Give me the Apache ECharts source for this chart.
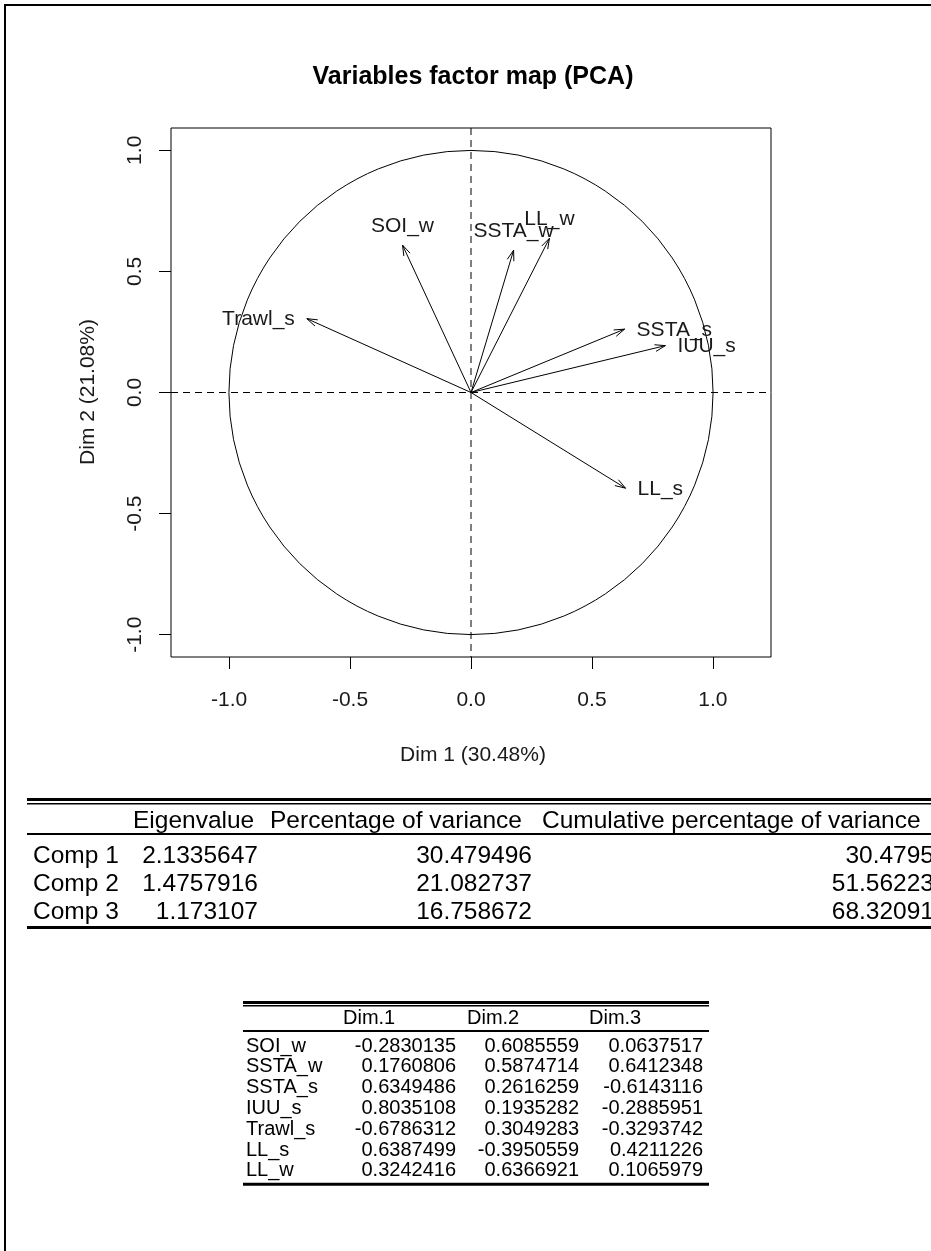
<!DOCTYPE html>
<html><head><meta charset="utf-8">
<script src="https://cdn.jsdelivr.net/npm/echarts@6/dist/echarts.min.js"></script>
<style>html,body{margin:0;padding:0;background:#fff}#main{width:931px;height:1251px}</style>
</head><body><div id="main"></div>
<script>
// ---------- data ----------
const variables = ['SOI_w', 'SSTA_w', 'SSTA_s', 'IUU_s', 'Trawl_s', 'LL_s', 'LL_w'];
const dim1 = [-0.2830135, 0.1760806, 0.6349486, 0.8035108, -0.6786312, 0.6387499, 0.3242416];
const dim2 = [0.6085559, 0.5874714, 0.2616259, 0.1935282, 0.3049283, -0.3950559, 0.6366921];
const dim3 = [0.0637517, 0.6412348, -0.6143116, -0.2885951, -0.3293742, 0.4211226, 0.1065979];
const components = ['Comp 1', 'Comp 2', 'Comp 3'];
const eigenvalues = ['2.1335647', '1.4757916', '1.173107'];
const pctVariance = ['30.479496', '21.082737', '16.758672'];
const cumPctVariance = ['30.4795', '51.56223', '68.32091'];
const eigenHeaders = ['Eigenvalue', 'Percentage of variance', 'Cumulative percentage of variance'];
const loadingHeaders = ['Dim.1', 'Dim.2', 'Dim.3'];
const tickValues = [-1.0, -0.5, 0.0, 0.5, 1.0];
const circle = [[0, 0, 1]];
const chartTitle = 'Variables factor map (PCA)';
const xTitle = 'Dim 1 (30.48%)';
const yTitle = 'Dim 2 (21.08%)';

// ---------- layout ----------
const FONT = "'Liberation Sans', Arial, Helvetica, sans-serif";
const PLOT_TXT = '#1a1a1a';
const PLOT_FS = 21;
const fmt = v => String(v);

const graphics = [];
graphics.push({type: 'polyline', shape: {points: [[5, 1251], [5, 5], [931, 5]]},
  style: {stroke: '#000', lineWidth: 2, fill: null}});
function txt(x, y, text, size, align, valign, extra) {
  return {type: 'text', x: x, y: y, style: Object.assign({
    text: text, fontSize: size, fontFamily: FONT, fill: '#000',
    align: align, textAlign: align, verticalAlign: valign, textVerticalAlign: valign
  }, extra || {})};
}
function rule(x1, x2, y, h) {
  return {type: 'rect', shape: {x: x1, y: y, width: x2 - x1, height: h}, style: {fill: '#000'}};
}
graphics.push(txt(473, 77, chartTitle, 25, 'center', 'middle', {fontWeight: 'bold'}));
graphics.push(txt(473, 755, xTitle, PLOT_FS, 'center', 'middle', {fill: PLOT_TXT}));
graphics.push(Object.assign(txt(0, 0, yTitle, PLOT_FS, 'center', 'middle', {fill: PLOT_TXT}),
  {x: 88, y: 392, rotation: Math.PI / 2}));

// ---- table 1: eigenvalues ----
const t1 = {x1: 27, x2: 931, top: 798, headerY: 821, underline: 833, rowY0: 856, rowH: 28, bottom: 926, font: 24.5,
  nameX: 33, eigRight: 258, pctRight: 532, cumRight: 934, headX: [133, 270, 542]};
graphics.push(rule(t1.x1, t1.x2, t1.top, 3));
graphics.push(rule(t1.x1, t1.x2, t1.top + 5, 1.5));
eigenHeaders.forEach((h, i) => graphics.push(txt(t1.headX[i], t1.headerY, h, t1.font, 'left', 'middle')));
graphics.push(rule(t1.x1, t1.x2, t1.underline, 2));
components.forEach((c, i) => {
  const y = t1.rowY0 + i * t1.rowH;
  graphics.push(txt(t1.nameX, y, c, t1.font, 'left', 'middle'));
  graphics.push(txt(t1.eigRight, y, eigenvalues[i], t1.font, 'right', 'middle'));
  graphics.push(txt(t1.pctRight, y, pctVariance[i], t1.font, 'right', 'middle'));
  graphics.push(txt(t1.cumRight, y, cumPctVariance[i], t1.font, 'right', 'middle'));
});
graphics.push(rule(t1.x1, t1.x2, t1.bottom, 3));

// ---- table 2: loadings ----
const t2 = {x1: 243, x2: 709, top: 1001, headerY: 1018, underline: 1030, rowY0: 1046, rowH: 20.8, font: 20,
  nameX: 246, headX: [343, 467, 589], valRight: [456, 579, 703]};
graphics.push(rule(t2.x1, t2.x2, t2.top, 3));
graphics.push(rule(t2.x1, t2.x2, t2.top + 4, 1.5));
loadingHeaders.forEach((h, i) => graphics.push(txt(t2.headX[i], t2.headerY, h, t2.font, 'left', 'middle')));
graphics.push(rule(t2.x1, t2.x2, t2.underline, 2));
variables.forEach((v, i) => {
  const y = t2.rowY0 + i * t2.rowH;
  graphics.push(txt(t2.nameX, y, v, t2.font, 'left', 'middle'));
  [dim1[i], dim2[i], dim3[i]].forEach((val, j) =>
    graphics.push(txt(t2.valRight[j], y, fmt(val), t2.font, 'right', 'middle')));
});
graphics.push(rule(t2.x1, t2.x2, t2.rowY0 + (variables.length - 1) * t2.rowH + 12, 3));

// ---------- chart ----------
const chart = echarts.init(document.getElementById('main'), null, {renderer: 'canvas'});
const axisCommon = {
  type: 'value', splitLine: {show: false}, axisLine: {show: false, onZero: false},
  axisTick: {show: true, inside: false, length: 12, customValues: tickValues, lineStyle: {color: '#000', width: 1}},
  axisLabel: {customValues: tickValues, formatter: v => Number(v).toFixed(1), fontSize: PLOT_FS, fontFamily: FONT, color: PLOT_TXT}
};
chart.setOption({
  animation: false,
  backgroundColor: '#fff',
  grid: {left: 171, top: 128, width: 600, height: 529, show: true, borderColor: '#000', borderWidth: 1, backgroundColor: 'transparent'},
  xAxis: Object.assign({}, axisCommon, {min: -1.24, max: 1.24,
    axisLabel: Object.assign({}, axisCommon.axisLabel, {margin: 33})}),
  yAxis: Object.assign({}, axisCommon, {min: -1.092, max: 1.092,
    axisLabel: Object.assign({}, axisCommon.axisLabel, {margin: 25, rotate: 90})}),
  graphic: graphics,
  series: [
    {
      type: 'custom', data: circle, silent: true, clip: false,
      renderItem: function (params, api) {
        const c = api.coord([api.value(0), api.value(1)]);
        const s = api.size([api.value(2), api.value(2)]);
        const cs = params.coordSys;
        const dash = [7, 5];
        return {type: 'group', children: [
          {type: 'circle', shape: {cx: c[0], cy: c[1], r: (s[0] + s[1]) / 2}, style: {stroke: '#000', lineWidth: 1, fill: null}},
          {type: 'line', shape: {x1: c[0], y1: cs.y, x2: c[0], y2: cs.y + cs.height}, style: {stroke: '#000', lineWidth: 1, lineDash: dash}},
          {type: 'line', shape: {x1: cs.x, y1: c[1], x2: cs.x + cs.width, y2: c[1]}, style: {stroke: '#000', lineWidth: 1, lineDash: dash}}
        ]};
      }
    },
    {
      type: 'custom', silent: true, clip: false,
      data: variables.map((v, i) => [dim1[i], dim2[i]]),
      renderItem: function (params, api) {
        const x = api.value(0), y = api.value(1);
        const o = api.coord([0, 0]);
        const p = api.coord([x, y]);
        const ang = Math.atan2(p[1] - o[1], p[0] - o[0]);
        const L = 11, a = 18 * Math.PI / 180;
        const h1 = [p[0] - L * Math.cos(ang - a), p[1] - L * Math.sin(ang - a)];
        const h2 = [p[0] - L * Math.cos(ang + a), p[1] - L * Math.sin(ang + a)];
        let tx, ty, align;
        if (Math.abs(x) > Math.abs(y)) {
          tx = p[0] + (x < 0 ? -12 : 12); ty = p[1] + 1; align = x < 0 ? 'right' : 'left';
        } else {
          tx = p[0]; ty = p[1] + (y < 0 ? 19 : -19); align = 'center';
        }
        return {type: 'group', children: [
          {type: 'line', shape: {x1: o[0], y1: o[1], x2: p[0], y2: p[1]}, style: {stroke: '#000', lineWidth: 1}},
          {type: 'polyline', shape: {points: [h1, p, h2]}, style: {stroke: '#000', lineWidth: 1, fill: null}},
          {type: 'text', style: {text: variables[params.dataIndex], x: tx, y: ty, fontSize: PLOT_FS, fontFamily: FONT, fill: PLOT_TXT,
            align: align, textAlign: align, verticalAlign: 'middle', textVerticalAlign: 'middle'}}
        ]};
      }
    }
  ]
});
</script>
</body></html>
